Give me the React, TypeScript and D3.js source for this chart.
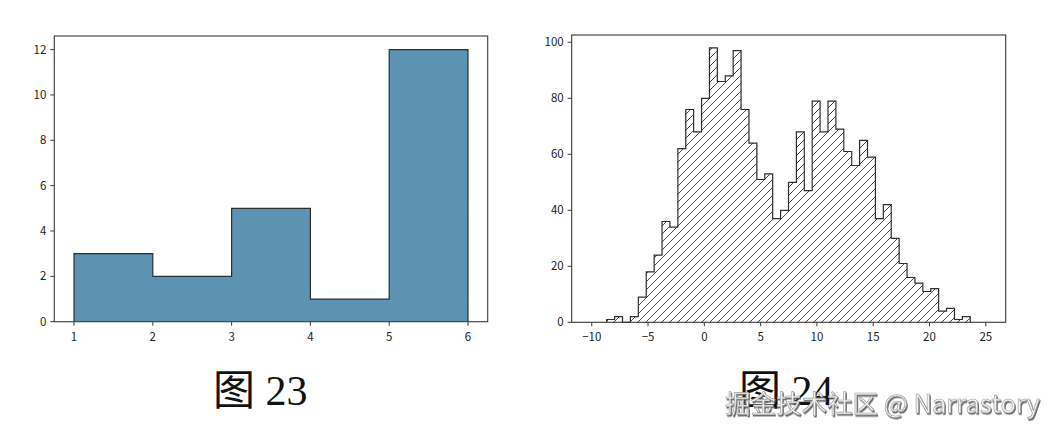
import React from "react";
import * as d3 from "d3";

// ---- Figure 23 data ----
const leftEdges = [1, 2, 3, 4, 5, 6];
const leftCounts = [3, 2, 5, 1, 12];
const leftXTicks = [1, 2, 3, 4, 5, 6];
const leftYTicks = [0, 2, 4, 6, 8, 10, 12];

// ---- Figure 24 data ----
const rightBinStart = -8.67;
const rightBinWidth = 0.702;
const rightCounts = [
  1, 2, 0, 2, 9, 18, 24, 36, 34, 62, 76, 68, 80, 98, 86, 88, 97, 76, 64, 51, 53, 37, 40,
  50, 68, 47, 79, 68, 79, 69, 61, 56, 65, 59, 37, 42, 30, 21, 16, 14, 11, 12, 4, 5, 1, 2,
];
const rightXTicks = [-10, -5, 0, 5, 10, 15, 20, 25];
const rightYTicks = [0, 20, 40, 60, 80, 100];

const captions = ["图 23", "图 24"];
const watermark = "掘金技术社区 @ Narrastory";

const tickFont = "'Noto Sans CJK SC', 'DejaVu Sans', sans-serif";
const fmt = (v: number) => (v < 0 ? "\u2212" + Math.abs(v) : String(v));

function stepPoints(edges: number[], counts: number[]): [number, number][] {
  const pts: [number, number][] = [[edges[0], 0]];
  counts.forEach((c, i) => {
    pts.push([edges[i], c]);
    pts.push([edges[i + 1], c]);
  });
  pts.push([edges[edges.length - 1], 0]);
  return pts;
}

function Axes({
  x,
  y,
  xTicks,
  yTicks,
  box,
}: {
  x: d3.ScaleLinear<number, number>;
  y: d3.ScaleLinear<number, number>;
  xTicks: number[];
  yTicks: number[];
  box: { l: number; r: number; t: number; b: number };
}) {
  return (
    <g>
      <rect
        x={box.l}
        y={box.t}
        width={box.r - box.l}
        height={box.b - box.t}
        fill="none"
        stroke="#3a3a3a"
        strokeWidth={1.1}
      />
      {xTicks.map((t) => (
        <g key={"x" + t}>
          <line x1={x(t)} x2={x(t)} y1={box.b} y2={box.b + 4} stroke="#3a3a3a" strokeWidth={1} />
          <text
            x={x(t)}
            y={box.b + 19}
            textAnchor="middle"
            fontSize={11.5}
            fontFamily={tickFont}
            fill="#222"
          >
            {fmt(t)}
          </text>
        </g>
      ))}
      {yTicks.map((t) => (
        <g key={"y" + t}>
          <line x1={box.l - 4} x2={box.l} y1={y(t)} y2={y(t)} stroke="#3a3a3a" strokeWidth={1} />
          <text
            x={box.l - 8}
            y={y(t)}
            dy="0.35em"
            textAnchor="end"
            fontSize={11.5}
            fontFamily={tickFont}
            fill="#222"
          >
            {fmt(t)}
          </text>
        </g>
      ))}
    </g>
  );
}

export default function App() {
  // Left chart
  const lBox = { l: 54.3, r: 487.7, t: 36, b: 321.7 };
  const lx = d3.scaleLinear().domain([0.75, 6.25]).range([lBox.l, lBox.r]);
  const ly = d3.scaleLinear().domain([0, 12.6]).range([lBox.b, lBox.t]);
  const lLine = d3
    .line<[number, number]>()
    .x((d) => lx(d[0]))
    .y((d) => ly(d[1]));
  const lPath = lLine(stepPoints(leftEdges, leftCounts)) || "";

  // Right chart
  const rBox = { l: 571.7, r: 1005.7, t: 35, b: 322.3 };
  const rx = d3.scaleLinear().domain([-11.78, 26.77]).range([rBox.l, rBox.r]);
  const ry = d3.scaleLinear().domain([0, 102.6]).range([rBox.b, rBox.t]);
  const rEdges = d3.range(rightCounts.length + 1).map((i) => rightBinStart + i * rightBinWidth);
  const rLine = d3
    .line<[number, number]>()
    .x((d) => rx(d[0]))
    .y((d) => ry(d[1]));
  const rPath = rLine(stepPoints(rEdges, rightCounts)) || "";

  return (
    <svg
      width={1053}
      height={432}
      style={{ position: "absolute", left: 0, top: 0, display: "block", background: "#fff" }}
    >
      <defs>
        <pattern id="hatch" patternUnits="userSpaceOnUse" width={8} height={8}>
          <path
            d="M-2,2 L2,-2 M0,8 L8,0 M6,10 L10,6"
            stroke="#333"
            strokeWidth={0.9}
            fill="none"
          />
        </pattern>
        <filter id="wmShadow" x="-5%" y="-20%" width="110%" height="150%">
          <feDropShadow dx={1} dy={1.5} stdDeviation={0.6} floodColor="#555" floodOpacity={0.9} />
        </filter>
      </defs>
      <rect x={0} y={0} width={1053} height={432} fill="#fff" />

      {/* Figure 23 */}
      <path d={lPath} fill="#5d93b2" stroke="#2e2e2e" strokeWidth={1.2} />
      <Axes x={lx} y={ly} xTicks={leftXTicks} yTicks={leftYTicks} box={lBox} />

      {/* Figure 24 */}
      <path d={rPath} fill="url(#hatch)" stroke="#2e2e2e" strokeWidth={1.2} />
      <Axes x={rx} y={ry} xTicks={rightXTicks} yTicks={rightYTicks} box={rBox} />

      {/* Captions */}
      <text
        x={213}
        y={405}
        fontSize={42}
        fontFamily="'Liberation Serif', 'Noto Sans CJK SC', serif"
        fill="#111"
      >
        {captions[0]}
      </text>
      <text
        x={739}
        y={405}
        fontSize={42}
        fontFamily="'Liberation Serif', 'Noto Sans CJK SC', serif"
        fill="#111"
      >
        {captions[1]}
      </text>

      {/* Watermark */}
      <text
        x={725}
        y={413}
        fontSize={25.5}
        fontFamily="'Noto Sans CJK SC', sans-serif"
        fill="#f2f2f2"
        stroke="#9a9a9a"
        strokeWidth={0.6}
        filter="url(#wmShadow)"
      >
        {watermark}
      </text>
    </svg>
  );
}
